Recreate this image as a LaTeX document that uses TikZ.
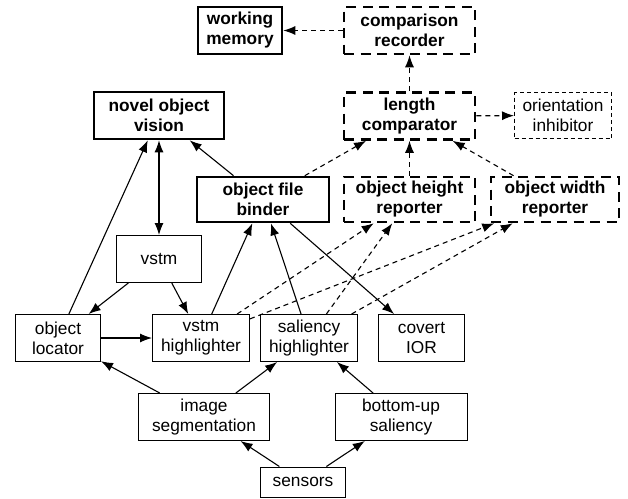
\documentclass[tikz,border=0pt]{standalone}
\usepackage{fontspec}
\setmainfont{Liberation Sans}
\usetikzlibrary{arrows.meta}

\begin{document}
\begin{tikzpicture}[x=1pt,y=-1pt]
	\tikzset{module/.style = {shape=rectangle,draw,line width=1pt,
			align=center,inner sep=0pt,minimum height=47pt,
			font=\fontsize{17.3}{20}\selectfont}}
	\tikzset{modbold/.style = {module,line width=2.6pt,
			font=\fontsize{17.3}{20}\selectfont\bfseries}}
	\tikzset{moddash/.style = {modbold,dash pattern=on 10pt off 6.5pt}}
	\tikzset{modthin/.style = {module,dash pattern=on 4pt off 3pt}}
	\tikzset{edge/.style = {-{Latex[length=12pt,width=9pt]},line width=1.1pt}}
	\tikzset{edgebi/.style = {edge,{Latex[length=12pt,width=9pt]}-{Latex[length=12pt,width=9pt]}}}
	\tikzset{edgedash/.style = {edge,dash pattern=on 5pt off 4pt}}

	\useasboundingbox (0,0) rectangle (628,498);

	% modules
	\node[modbold, minimum width=84pt] (wm) at (240,30.5) {working\\memory};
	\node[moddash, minimum width=131pt] (cr) at (409.5,30.5) {comparison\\recorder};
	\node[modbold, minimum width=130pt] (nov) at (159,115.5) {novel object\\vision};
	\node[moddash, minimum width=131pt] (lc) at (409.5,116) {length\\comparator};
	\node[modthin, minimum width=97pt, minimum height=46pt] (oi) at (563,115.5) {orientation\\inhibitor};
	\node[modbold, minimum width=132pt, minimum height=45pt] (ofb) at (263,199.5) {object file\\binder};
	\node[moddash, minimum width=131pt, minimum height=45pt] (ohr) at (409.5,199.5) {object height\\reporter};
	\node[moddash, minimum width=128pt, minimum height=45pt] (owr) at (555,199.5) {object width\\reporter};
	\node[module, minimum width=85pt] (vstm) at (159,259) {vstm};
	\node[module, minimum width=85pt] (ol) at (58,338) {object\\locator};
	\node[module, minimum width=97pt] (vh) at (201,338) {vstm\\highlighter};
	\node[module, minimum width=97pt] (sh) at (309,338) {saliency\\highlighter};
	\node[module, minimum width=86pt] (ior) at (421.5,338) {covert\\IOR};
	\node[module, minimum width=131pt] (seg) at (204,417) {image\\segmentation};
	\node[module, minimum width=132pt] (bus) at (401,417) {bottom-up\\saliency};
	\node[module, minimum width=85pt, minimum height=30pt] (sen) at (303,482) {sensors};

	% edges
	\draw[edgedash] (cr) to (wm);
	\draw[edgedash] (lc) to (cr);
	\draw[edgedash] (lc) to (oi);
	\draw[edgedash] (ohr) to (lc);
	\draw[edgedash] (owr) to (lc);
	\draw[edgedash] (ofb) to (lc);
	\draw[edge] (ofb) to (nov);
	\draw[edge] (ol) to (nov);
	\draw[edgebi] (vstm) to (nov);
	\draw[edge] (vstm) to (ol);
	\draw[edge] (vstm) to (vh);
	\draw[edge] (ol) to (vh);
	\draw[edge] (vh) to (ofb);
	\draw[edge] (sh) to (ofb);
	\draw[edge] (ofb) to (ior);
	\draw[edgedash] (vh) to (ohr);
	\draw[edgedash] (vh) to (owr);
	\draw[edgedash] (sh) to (ohr);
	\draw[edgedash] (sh) to (owr);
	\draw[edge] (seg) to (ol);
	\draw[edge] (seg) to (sh);
	\draw[edge] (bus) to (sh);
	\draw[edge] (sen) to (seg);
	\draw[edge] (sen) to (bus);

\end{tikzpicture}
\end{document}
